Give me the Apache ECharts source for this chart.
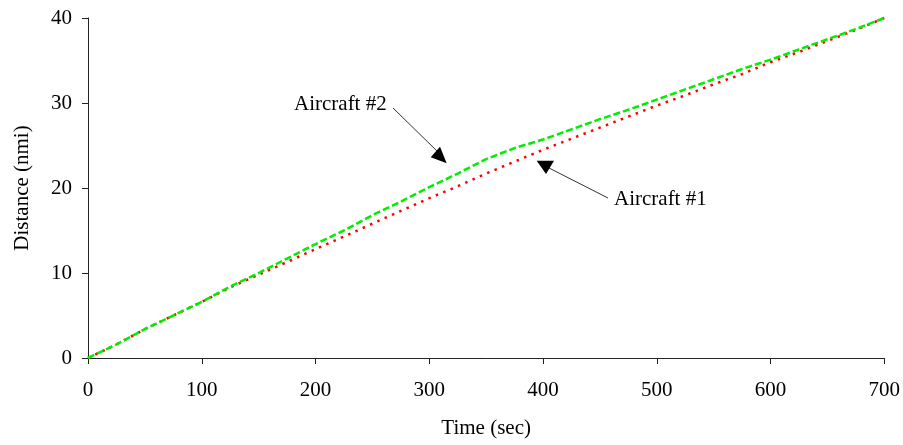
<!DOCTYPE html>
<html>
<head>
<meta charset="utf-8">
<script src="https://cdn.jsdelivr.net/npm/echarts@6/dist/echarts.min.js"></script>
<style>
html,body{margin:0;padding:0;background:#fff;}
#chart{width:903px;height:445px;}
</style>
</head>
<body>
<div id="chart"></div>
<script>
// Time (sec)
var times = [0,25,50,75,100,125,150,175,200,225,250,275,300,325,350,375,400,425,450,475,500,525,550,575,600,625,650,675,700];
// Distance (nmi) - Aircraft #1 (red, dotted)
var aircraft1 = [0,1.6,3.4,5.0,6.6,8.3,9.8,11.3,12.8,14.3,15.8,17.3,18.8,20.2,21.7,23.1,24.5,25.8,27.1,28.4,29.7,30.9,32.2,33.4,34.8,36.0,37.3,38.6,40.0];
// Distance (nmi) - Aircraft #2 (green, dashed)
var aircraft2 = [0,1.6,3.4,5.0,6.6,8.4,10.0,11.7,13.4,15.0,16.8,18.4,20.1,21.7,23.4,24.7,25.7,26.9,28.1,29.2,30.4,31.6,32.8,34.0,35.1,36.3,37.5,38.7,40.0];
var xTicks = [0,100,200,300,400,500,600,700];
var yTicks = [0,10,20,30,40];
var seriesNames = ['Aircraft #1','Aircraft #2'];

function pairs(xs, ys){ return xs.map(function(x,i){ return [x, ys[i]]; }); }

var font = 'Liberation Serif, Times New Roman, serif';
var chart = echarts.init(document.getElementById('chart'), null, {renderer:'canvas'});
chart.setOption({
  animation:false,
  backgroundColor:'#fff',
  grid:{left:88, right:16, top:18, bottom:87, containLabel:false},
  xAxis:{
    type:'value', min:xTicks[0], max:xTicks[xTicks.length-1], interval:100,
    name:'Time (sec)', nameLocation:'middle', nameGap:60,
    nameTextStyle:{fontFamily:font, fontSize:21, color:'#000'},
    axisLine:{show:true, onZero:false, lineStyle:{color:'#222', width:1}},
    axisTick:{show:true, inside:false, length:6, lineStyle:{color:'#222'}},
    axisLabel:{fontFamily:font, fontSize:21, color:'#000', margin:22},
    splitLine:{show:false}
  },
  yAxis:{
    type:'value', min:yTicks[0], max:yTicks[yTicks.length-1], interval:10,
    name:'Distance (nmi)', nameLocation:'middle', nameGap:55, nameRotate:90,
    nameTextStyle:{fontFamily:font, fontSize:21, color:'#000'},
    axisLine:{show:true, onZero:false, lineStyle:{color:'#222', width:1}},
    axisTick:{show:true, inside:false, length:6, lineStyle:{color:'#222'}},
    axisLabel:{fontFamily:font, fontSize:21, color:'#000', margin:16},
    splitLine:{show:false}
  },
  series:[
    {name:seriesNames[0], type:'line', data:pairs(times, aircraft1), showSymbol:false, smooth:false,
     lineStyle:{color:'#ff0000', width:2.5, type:[2.5,5.5]}, z:2},
    {name:seriesNames[1], type:'line', data:pairs(times, aircraft2), showSymbol:false, smooth:false,
     lineStyle:{color:'#00ee00', width:2.5, type:[7,3]}, z:3}
  ],
  graphic:[
    {type:'text', left:294, top:94, style:{text:'Aircraft #2', font:'21px '+font, fill:'#000'}},
    {type:'line', shape:{x1:393, y1:108, x2:438, y2:152}, style:{stroke:'#333', lineWidth:1}},
    {type:'polygon', shape:{points:[[440,146.7],[430.7,157.3],[446.7,163.3]]}, style:{fill:'#000'}},
    {type:'text', left:614, top:189, style:{text:'Aircraft #1', font:'21px '+font, fill:'#000'}},
    {type:'line', shape:{x1:608, y1:198, x2:549, y2:168}, style:{stroke:'#333', lineWidth:1}},
    {type:'polygon', shape:{points:[[536.7,160.7],[554,160.7],[546,174]]}, style:{fill:'#000'}}
  ]
});
</script>
</body>
</html>
